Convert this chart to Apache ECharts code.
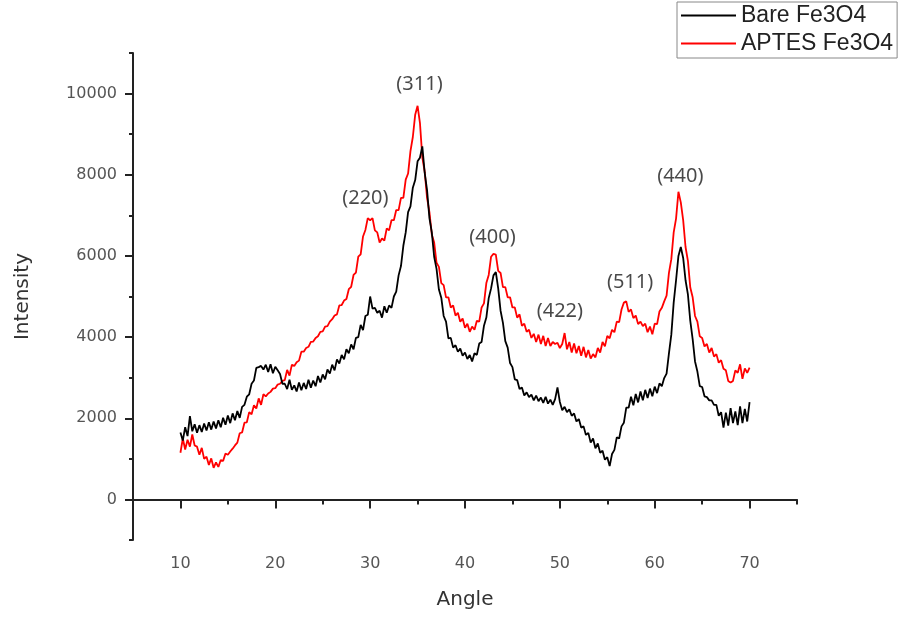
<!DOCTYPE html>
<html>
<head>
<meta charset="utf-8">
<title>XRD Fe3O4</title>
<script src="https://cdn.jsdelivr.net/npm/echarts@6/dist/echarts.min.js"></script>
<style>
    html, body { margin: 0; padding: 0; background: #fff; }
    #main { width: 901px; height: 621px; }
</style>
</head>
<body>
<div id="main"></div>
<script>
// 2-theta grid of the scan, 10 to 70 deg in 0.25 deg steps
var angleStart = 10, angleEnd = 70, angleStep = 0.25;
var angles = [];
for (var a = angleStart; a <= angleEnd + 1e-9; a += angleStep) {
    angles.push(Math.round(a * 100) / 100);
}

// one row per degree (d, d.25, d.5, d.75)
var bareFe3O4 = [
    1650, 1450, 1780, 1560,   // 10
    2050, 1680, 1850, 1640,   // 11
    1830, 1660, 1870, 1700,   // 12
    1900, 1720, 1920, 1750,   // 13
    1950, 1780, 2010, 1840,   // 14
    2070, 1880, 2120, 1950,   // 15
    2180, 2010, 2280, 2330,   // 16
    2530, 2590, 2850, 2930,   // 17
    3240, 3260, 3290, 3200,   // 18
    3320, 3140, 3330, 3110,   // 19
    3270, 3180, 3090, 2850,   // 20
    2850, 2720, 2950, 2700,   // 21
    2810, 2660, 2880, 2690,   // 22
    2870, 2720, 2950, 2750,   // 23
    2930, 2790, 3040, 2880,   // 24
    3080, 2960, 3200, 3100,   // 25
    3320, 3180, 3450, 3350,   // 26
    3560, 3450, 3700, 3600,   // 27
    3820, 3700, 3980, 4000,   // 28
    4300, 4170, 4520, 4550,   // 29
    5000, 4700, 4720, 4600,   // 30
    4650, 4480, 4760, 4600,   // 31
    4780, 4720, 5000, 5120,   // 32
    5520, 5750, 6250, 6580,   // 33
    7080, 7220, 7680, 7870,   // 34
    8330, 8420, 8700, 8050,   // 35
    7620, 6930, 6580, 5980,   // 36
    5680, 5170, 4970, 4520,   // 37
    4380, 3970, 3980, 3740,   // 38
    3800, 3640, 3720, 3540,   // 39
    3620, 3460, 3560, 3400,   // 40
    3600, 3560, 3840, 3880,   // 41
    4280, 4480, 4960, 5200,   // 42
    5520, 5600, 5200, 4650,   // 43
    4350, 3900, 3740, 3360,   // 44
    3260, 2960, 2940, 2720,   // 45
    2760, 2560, 2640, 2520,   // 46
    2580, 2440, 2560, 2420,   // 47
    2510, 2380, 2530, 2360,   // 48
    2460, 2330, 2470, 2760,   // 49
    2400, 2200, 2280, 2150,   // 50
    2220, 2060, 2120, 1920,   // 51
    1980, 1770, 1800, 1590,   // 52
    1640, 1400, 1500, 1260,   // 53
    1380, 1150, 1200, 980,    // 54
    1040, 820, 1120, 1220,    // 55
    1530, 1500, 1800, 1890,   // 56
    2260, 2260, 2530, 2320,   // 57
    2600, 2390, 2660, 2440,   // 58
    2700, 2500, 2730, 2540,   // 59
    2780, 2620, 2860, 2790,   // 60
    2990, 3100, 3600, 4060,   // 61
    4850, 5400, 6000, 6220,   // 62
    5950, 5400, 5050, 4400,   // 63
    3950, 3400, 3150, 2790,   // 64
    2770, 2540, 2520, 2440,   // 65
    2440, 2330, 2330, 2060,   // 66
    2150, 1770, 2140, 1820,   // 67
    2250, 1880, 2170, 1830,   // 68
    2290, 1880, 2230, 1920,   // 69
    2400                      // 70
];

var aptesFe3O4 = [
    1150, 1500, 1230, 1470,   // 10
    1300, 1600, 1330, 1300,   // 11
    1100, 1270, 1000, 1050,   // 12
    850, 1010, 780, 910,      // 13
    800, 970, 950, 1130,      // 14
    1100, 1180, 1250, 1330,   // 15
    1400, 1630, 1650, 1890,   // 16
    1900, 2150, 2100, 2320,   // 17
    2240, 2490, 2330, 2590,   // 18
    2540, 2610, 2650, 2730,   // 19
    2740, 2830, 2850, 2920,   // 20
    2940, 3190, 3050, 3320,   // 21
    3290, 3380, 3420, 3640,   // 22
    3640, 3730, 3760, 3880,   // 23
    3890, 3980, 4020, 4130,   // 24
    4140, 4260, 4270, 4380,   // 25
    4440, 4530, 4560, 4780,   // 26
    4790, 4900, 4940, 5180,   // 27
    5240, 5530, 5590, 5980,   // 28
    6040, 6480, 6640, 6930,   // 29
    6880, 6930, 6630, 6580,   // 30
    6330, 6430, 6380, 6680,   // 31
    6630, 6880, 6880, 7130,   // 32
    7130, 7430, 7430, 7880,   // 33
    8030, 8580, 8930, 9480,   // 34
    9700, 9280, 8430, 8080,   // 35
    7430, 7080, 6530, 6330,   // 36
    5830, 5730, 5330, 5280,   // 37
    4980, 4980, 4730, 4780,   // 38
    4530, 4600, 4380, 4460,   // 39
    4230, 4330, 4130, 4260,   // 40
    4180, 4400, 4380, 4730,   // 41
    4830, 5330, 5530, 5980,   // 42
    6050, 6030, 5630, 5580,   // 43
    5230, 5230, 4980, 4980,   // 44
    4730, 4730, 4480, 4560,   // 45
    4280, 4330, 4130, 4180,   // 46
    3980, 4080, 3880, 4060,   // 47
    3830, 4030, 3780, 3980,   // 48
    3780, 3880, 3830, 3860,   // 49
    3730, 3830, 4100, 3700,   // 50
    3880, 3620, 3840, 3600,   // 51
    3780, 3540, 3760, 3500,   // 52
    3680, 3470, 3580, 3500,   // 53
    3730, 3620, 3880, 3770,   // 54
    4030, 3970, 4180, 4120,   // 55
    4380, 4370, 4680, 4850,   // 56
    4880, 4620, 4680, 4470,   // 57
    4530, 4320, 4380, 4270,   // 58
    4330, 4120, 4260, 4070,   // 59
    4330, 4320, 4630, 4720,   // 60
    4880, 5020, 5580, 5920,   // 61
    6580, 6920, 7580, 7320,   // 62
    6880, 6220, 5880, 5220,   // 63
    4980, 4520, 4380, 4020,   // 64
    3980, 3770, 3830, 3620,   // 65
    3730, 3520, 3580, 3370,   // 66
    3430, 3220, 3180, 2920,   // 67
    2880, 2920, 3180, 3120,   // 68
    3330, 2970, 3230, 3120,   // 69
    3250                      // 70
];

// peak (hkl) labels and where they sit, in data units
var peakLabels = ['(220)', '(311)', '(400)', '(422)', '(511)', '(440)'];
var peakAngles = [29.5, 35.2, 42.9, 50.0, 57.4, 62.7];
var peakIntensity = [7430, 10220, 6470, 4640, 5360, 7950];

var xMajorTicks = [10, 20, 30, 40, 50, 60, 70];
var xMinorTicks = [5, 15, 25, 35, 45, 55, 65, 75];
var yMajorTicks = [0, 2000, 4000, 6000, 8000, 10000];
var yMinorTicks = [-1000, 1000, 3000, 5000, 7000, 9000, 11000];

var myChart = echarts.init(document.getElementById('main'));

function pairs(xs, ys) {
    var out = [];
    for (var i = 0; i < ys.length; i++) {
        out.push([xs[i], ys[i]]);
    }
    return out;
}

var axisColor = '#222';
var labelColor = '#555';
var tickFont = 'DejaVu Sans';

var option = {
    animation: false,
    backgroundColor: '#fff',
    grid: {
        left: 133,
        right: 104,
        top: 53,
        bottom: 81
    },
    legend: {
        data: [
            { name: 'Bare Fe3O4', icon: 'rect' },
            { name: 'APTES Fe3O4', icon: 'rect' }
        ],
        orient: 'vertical',
        left: 677,
        top: 2,
        padding: [2, 4, 3, 4],
        itemWidth: 55,
        itemHeight: 2,
        itemGap: 5,
        borderColor: '#888',
        borderWidth: 1,
        textStyle: {
            fontFamily: 'Liberation Sans',
            fontSize: 23,
            color: '#222'
        }
    },
    xAxis: [
        {
            type: 'value',
            min: 5,
            max: 75,
            name: 'Angle',
            nameLocation: 'middle',
            nameGap: 50,
            nameTextStyle: { fontFamily: tickFont, fontSize: 20, color: '#333' },
            axisLine: { lineStyle: { color: axisColor, width: 2 } },
            axisTick: { customValues: xMajorTicks, inside: false, length: 9, lineStyle: { color: axisColor, width: 2 } },
            axisLabel: {
                customValues: xMajorTicks, margin: 16, fontFamily: tickFont, fontSize: 16, color: labelColor,
                formatter: function (v) { return String(v); }
            },
            splitLine: { show: false }
        },
        {
            type: 'value',
            position: 'bottom',
            min: 5,
            max: 75,
            axisLine: { show: false },
            axisTick: { customValues: xMinorTicks, length: 5, lineStyle: { color: axisColor, width: 2 } },
            axisLabel: { show: false },
            splitLine: { show: false }
        }
    ],
    yAxis: [
        {
            type: 'value',
            min: -1000,
            max: 11000,
            name: 'Intensity',
            nameLocation: 'middle',
            nameGap: 100,
            nameTextStyle: { fontFamily: tickFont, fontSize: 20, color: '#333' },
            axisLine: { show: true, lineStyle: { color: axisColor, width: 2 } },
            axisTick: { show: true, customValues: yMajorTicks, length: 8, lineStyle: { color: axisColor, width: 2 } },
            axisLabel: {
                customValues: yMajorTicks, margin: 16, fontFamily: tickFont, fontSize: 16, color: labelColor,
                formatter: function (v) { return String(v); }
            },
            splitLine: { show: false }
        },
        {
            type: 'value',
            position: 'left',
            min: -1000,
            max: 11000,
            axisLine: { show: false },
            axisTick: { show: true, customValues: yMinorTicks, length: 4, lineStyle: { color: axisColor, width: 2 } },
            axisLabel: { show: false },
            splitLine: { show: false }
        }
    ],
    series: [
        {
            name: 'Bare Fe3O4',
            type: 'line',
            data: pairs(angles, bareFe3O4),
            showSymbol: false,
            symbol: 'none',
            color: '#000',
            lineStyle: { color: '#000', width: 1.8 },
            z: 3
        },
        {
            name: 'APTES Fe3O4',
            type: 'line',
            data: pairs(angles, aptesFe3O4),
            showSymbol: false,
            symbol: 'none',
            color: '#f00',
            lineStyle: { color: '#f00', width: 1.8 },
            z: 2
        },
        {
            name: 'peaks',
            type: 'scatter',
            data: pairs(peakAngles, peakIntensity),
            symbolSize: 0,
            silent: true,
            label: {
                show: true,
                position: 'inside',
                fontFamily: 'Noto Sans',
                fontSize: 20,
                color: '#1a1a1a',
                formatter: function (p) {
                    return peakLabels[p.dataIndex];
                }
            },
            z: 4
        }
    ]
};

myChart.setOption(option);
</script>
</body>
</html>
